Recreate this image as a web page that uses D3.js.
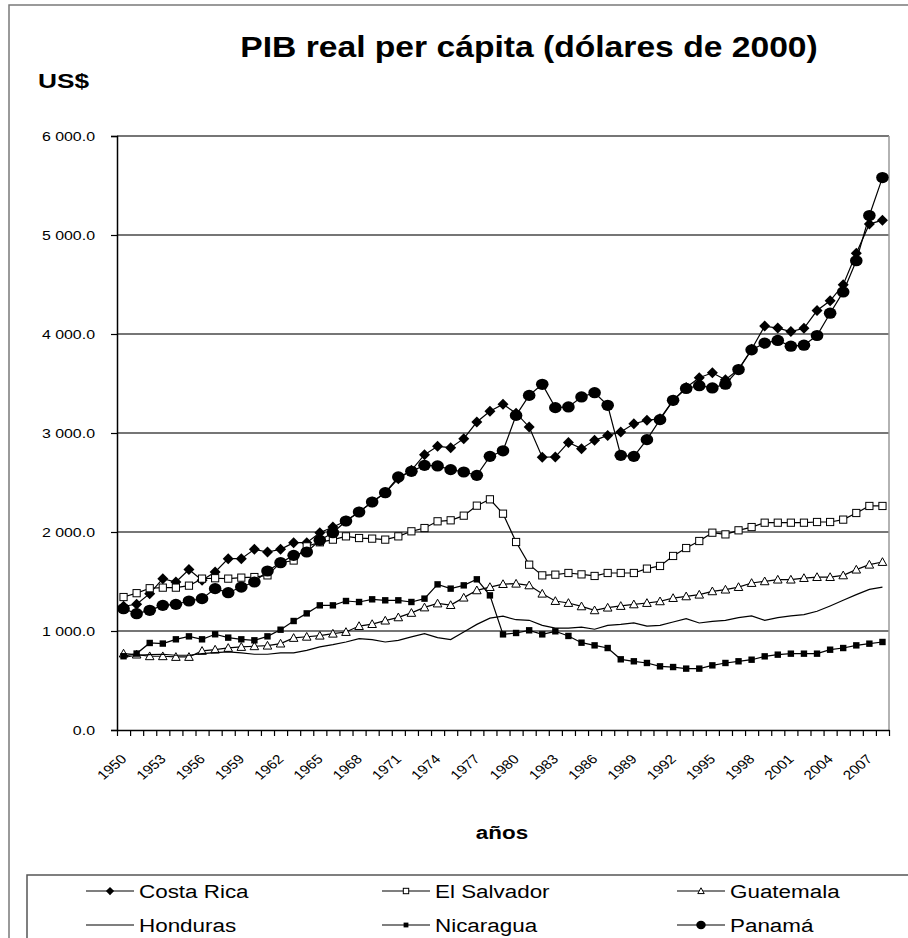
<!DOCTYPE html>
<html>
<head>
<meta charset="utf-8">
<script src="https://cdn.jsdelivr.net/npm/d3@7"></script>
<style>
  body { margin: 0; background: #fff; }
  text { font-family: "Liberation Sans", Arial, sans-serif; fill: #000; }
</style>
</head>
<body>
<svg id="chart" width="908" height="938"></svg>
<script>
// Real GDP per capita, constant 2000 US dollars, 1950–2008
const years = d3.range(1950, 2009);

const costaRica = [1250, 1270, 1377, 1529, 1495, 1620, 1512, 1596, 1731, 1731,
  1825, 1798, 1825, 1892, 1892, 1993, 2050, 2111, 2202, 2303,
  2397, 2539, 2623, 2781, 2865, 2852, 2943, 3111, 3219, 3290,
  3200, 3061, 2755, 2758, 2905, 2842, 2926, 2976, 3010, 3094,
  3128, 3145, 3330, 3460, 3558, 3608, 3538, 3642, 3846, 4080,
  4060, 4025, 4058, 4237, 4335, 4497, 4815, 5110, 5150];

const elSalvador = [1343, 1382, 1432, 1438, 1438, 1458, 1529, 1533, 1529, 1539,
  1545, 1562, 1690, 1712, 1855, 1896, 1923, 1956, 1939, 1933,
  1923, 1956, 2007, 2040, 2108, 2118, 2165, 2266, 2330, 2185,
  1899, 1670, 1562, 1569, 1586, 1572, 1556, 1586, 1586, 1586,
  1630, 1657, 1758, 1838, 1909, 1993, 1976, 2017, 2050, 2094,
  2094, 2094, 2094, 2101, 2101, 2125, 2192, 2263, 2263];

const guatemala = [772, 762, 745, 745, 738, 738, 799, 812, 829, 839,
  846, 852, 873, 930, 942, 953, 973, 990, 1050, 1070,
  1105, 1138, 1183, 1238, 1278, 1262, 1337, 1411, 1444, 1474,
  1478, 1461, 1377, 1303, 1283, 1249, 1209, 1236, 1253, 1269,
  1283, 1300, 1333, 1350, 1367, 1401, 1418, 1444, 1485, 1502,
  1519, 1519, 1535, 1545, 1545, 1562, 1620, 1670, 1697];

const honduras = [732, 755, 762, 765, 755, 755, 772, 782, 789, 779,
  765, 765, 779, 779, 805, 839, 862, 889, 923, 913,
  889, 906, 940, 973, 933, 913, 990, 1067, 1130, 1150,
  1114, 1108, 1057, 1030, 1030, 1040, 1018, 1057, 1067, 1081,
  1050, 1057, 1091, 1125, 1081, 1098, 1108, 1135, 1152, 1108,
  1135, 1152, 1165, 1199, 1253, 1310, 1367, 1421, 1444];

const nicaragua = [745, 772, 879, 873, 916, 946, 916, 967, 933, 916,
  906, 946, 1013, 1101, 1178, 1259, 1259, 1303, 1293, 1320,
  1310, 1310, 1293, 1327, 1471, 1428, 1461, 1522, 1360, 966,
  980, 1007, 966, 997, 950, 882, 855, 828, 714, 694,
  677, 643, 636, 620, 620, 653, 677, 694, 710, 744,
  761, 771, 771, 771, 811, 828, 855, 872, 889];

const panama = [1225, 1175, 1209, 1259, 1269, 1303, 1327, 1428, 1387, 1444,
  1495, 1606, 1690, 1764, 1798, 1916, 1993, 2111, 2202, 2303,
  2397, 2556, 2613, 2673, 2667, 2630, 2606, 2572, 2764, 2820,
  3178, 3380, 3492, 3256, 3263, 3364, 3407, 3280, 2774, 2764,
  2933, 3135, 3330, 3450, 3478, 3455, 3493, 3641, 3840, 3908,
  3935, 3877, 3887, 3985, 4210, 4425, 4740, 5197, 5580];

const seriesNames = ["Costa Rica", "El Salvador", "Guatemala", "Honduras", "Nicaragua", "Panamá"];
const seriesValues = [costaRica, elSalvador, guatemala, honduras, nicaragua, panama];
const seriesMarkers = ["diamond", "openSquare", "openTriangle", "none", "filledSquare", "circle"];

const yTickValues = [0, 1000, 2000, 3000, 4000, 5000, 6000];
const xLabelYears = d3.range(1950, 2009, 3);

const titleText = "PIB real per cápita (dólares de 2000)";
const yUnitText = "US$";
const xTitleText = "años";

// ---- layout ----
const svg = d3.select("#chart");
const plot = { left: 117, right: 889, top: 136, bottom: 730 };
const SX = 1.18; // horizontal stretch applied to lettering

const x = d3.scaleLinear().domain([-0.5, years.length - 0.5]).range([plot.left, plot.right]);
const y = d3.scaleLinear().domain([0, 6000]).range([plot.bottom, plot.top]);

const locale = d3.formatLocale({ decimal: ".", thousands: " ", grouping: [3], currency: ["", ""] });
const fmt = locale.format(",.1f");

// outer frame
svg.append("rect").attr("x", 9).attr("y", 5).attr("width", 940).attr("height", 960)
  .attr("fill", "none").attr("stroke", "#7a7a7a").attr("stroke-width", 1.5);

// stretched text helper
function sText(g, px, py, str, size, weight, anchor, extra, sx) {
  const t = g.append("g").attr("transform", `translate(${px},${py}) scale(${sx || SX},1)${extra || ""}`)
    .append("text").attr("x", 0).attr("y", 0)
    .attr("font-size", size).attr("font-weight", weight || "normal")
    .attr("text-anchor", anchor || "start").text(str);
  return t;
}

// titles
sText(svg, 529, 57, titleText, 29, "bold", "middle", "", 1.16);
sText(svg, 38, 88, yUnitText, 21, "bold", "start", "", 1.25);
sText(svg, 502, 839, xTitleText, 19, "bold", "middle");

// gridlines
svg.append("g").selectAll("line").data(yTickValues.filter(v => v > 0)).join("line")
  .attr("x1", plot.left).attr("x2", plot.right)
  .attr("y1", d => y(d)).attr("y2", d => y(d))
  .attr("stroke", "#767676").attr("stroke-width", 2);

// plot right border
svg.append("line").attr("x1", plot.right).attr("x2", plot.right)
  .attr("y1", plot.top).attr("y2", plot.bottom)
  .attr("stroke", "#9a9a9a").attr("stroke-width", 1.5);

// y axis
const yAxis = svg.append("g").attr("transform", `translate(${plot.left},0)`)
  .call(d3.axisLeft(y).tickValues(yTickValues).tickSize(6).tickFormat(""));
yAxis.select(".domain").attr("stroke", "#000").attr("stroke-width", 1.5);
yAxis.selectAll(".tick line").attr("stroke", "#000").attr("stroke-width", 1.2);
yTickValues.forEach(v => sText(svg, 95, y(v) + 5, fmt(v), 13.5, "normal", "end"));

// x axis (ticks between categories)
const xAxis = svg.append("g").attr("transform", `translate(0,${plot.bottom})`)
  .call(d3.axisBottom(x).tickValues(d3.range(-0.5, years.length, 1)).tickSize(6).tickFormat("").tickSizeOuter(0));
xAxis.select(".domain").attr("stroke", "#000").attr("stroke-width", 1.5);
xAxis.selectAll(".tick line").attr("stroke", "#000").attr("stroke-width", 1.2);
xLabelYears.forEach(yr => {
  const i = years.indexOf(yr);
  sText(svg, x(i) + 4, 760, String(yr), 13, "normal", "end", " rotate(-45)");
});

// marker drawing
function drawMarker(g, kind, cx, cy, scale) {
  const s = scale || 1;
  if (kind === "diamond") {
    const r = 5.5 * s;
    g.append("path").attr("d", `M${cx},${cy - r}L${cx + r},${cy}L${cx},${cy + r}L${cx - r},${cy}Z`)
      .attr("fill", "#000");
  } else if (kind === "openSquare") {
    const h = 3.6 * s;
    g.append("rect").attr("x", cx - h).attr("y", cy - h).attr("width", 2 * h).attr("height", 2 * h)
      .attr("fill", "#fff").attr("stroke", "#000").attr("stroke-width", 1);
  } else if (kind === "openTriangle") {
    const h = 4.3 * s;
    g.append("path").attr("d", `M${cx},${cy - h}L${cx + h},${cy + h * 0.8}L${cx - h},${cy + h * 0.8}Z`)
      .attr("fill", "#fff").attr("stroke", "#000").attr("stroke-width", 1);
  } else if (kind === "filledSquare") {
    const h = 3.2 * s;
    g.append("rect").attr("x", cx - h).attr("y", cy - h).attr("width", 2 * h).attr("height", 2 * h)
      .attr("fill", "#000");
  } else if (kind === "circle") {
    g.append("ellipse").attr("cx", cx).attr("cy", cy).attr("rx", 6.3 * s).attr("ry", 5.6 * s).attr("fill", "#000");
  }
}

// series
const line = d3.line().x((d, i) => x(i)).y(d => y(d));
seriesValues.forEach((vals, k) => {
  const g = svg.append("g");
  g.append("path").datum(vals).attr("d", line)
    .attr("fill", "none").attr("stroke", "#000").attr("stroke-width", 1.2);
  vals.forEach((v, i) => drawMarker(g, seriesMarkers[k], x(i), y(v)));
});

// legend
const legend = svg.append("g");
legend.append("rect").attr("x", 27).attr("y", 875).attr("width", 920).attr("height", 120)
  .attr("fill", "#fff").attr("stroke", "#555").attr("stroke-width", 1.5);
const legCols = [86, 382, 677];
const legRows = [891, 925];
seriesNames.forEach((name, k) => {
  const cx = legCols[k % 3], cy = legRows[Math.floor(k / 3)];
  legend.append("line").attr("x1", cx).attr("x2", cx + 48).attr("y1", cy).attr("y2", cy)
    .attr("stroke", "#000").attr("stroke-width", 1.2);
  drawMarker(legend, seriesMarkers[k], cx + 24, cy, 0.75);
  sText(legend, cx + 53, cy + 7, name, 19, "normal", "start");
});
</script>
</body>
</html>
